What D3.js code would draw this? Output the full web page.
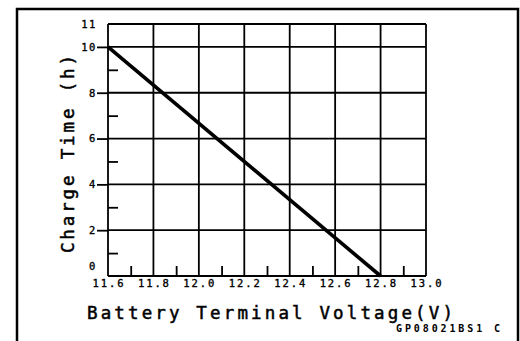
<!DOCTYPE html>
<html>
<head>
<meta charset="utf-8">
<script src="https://cdn.jsdelivr.net/npm/d3@7"></script>
<style>
  html, body { margin: 0; padding: 0; background: #fff; }
  svg { display: block; }
  text { font-family: "DejaVu Sans Mono", monospace; fill: #000; }
</style>
</head>
<body>
<svg id="chart" width="520" height="341"></svg>
<script>
// Charge time versus battery terminal voltage
const voltage = [11.6, 12.8];            // V
const chargeTime = [10, 0];               // h
const xMajorTicks = [11.6, 11.8, 12.0, 12.2, 12.4, 12.6, 12.8, 13.0];
const xTickLabels = ["11.6", "11.8", "12.0", "12.2", "12.4", "12.6", "12.8", "13.0"];
const xMinorTicks = [11.7, 11.9, 12.1, 12.3, 12.5, 12.7, 12.9];
const yMajorTicks = [0, 2, 4, 6, 8, 10, 11];
const yTickLabels = ["0", "2", "4", "6", "8", "10", "11"];
const yMinorTicks = [1, 3, 5, 7, 9];
const xTitle = "Battery Terminal Voltage(V)";
const yTitle = "Charge Time (h)";
const figureCode = "GP08021BS1  C";

const svg = d3.select("#chart");

const x = d3.scaleLinear().domain([11.6, 13.0]).range([108, 426]);
const y = d3.scaleLinear().domain([0, 11]).range([276, 24]);

// outer frame
svg.append("rect")
  .attr("x", 17).attr("y", 9)
  .attr("width", 501).attr("height", 345)
  .attr("fill", "none").attr("stroke", "#000").attr("stroke-width", 2.5);

const grid = svg.append("g").attr("stroke", "#000").attr("stroke-width", 1.8);

// vertical grid lines (every 0.2 V) and plot borders
grid.selectAll("line.v").data(xMajorTicks).join("line")
  .attr("class", "v")
  .attr("x1", d => x(d)).attr("x2", d => x(d))
  .attr("y1", y(11)).attr("y2", y(0));

// horizontal grid lines (every 2 h) plus top / bottom edges
grid.selectAll("line.h").data([0, 2, 4, 6, 8, 10, 11]).join("line")
  .attr("class", "h")
  .attr("x1", x(11.6)).attr("x2", x(13.0))
  .attr("y1", d => y(d)).attr("y2", d => y(d));

// major y ticks outside the left axis
const yMajorAxis = d3.axisLeft(y)
  .tickValues(yMajorTicks.filter(d => d > 0 && d < 11))
  .tickSize(11).tickFormat("");
const gy = svg.append("g").attr("transform", `translate(${x(11.6)},0)`).call(yMajorAxis);
gy.select(".domain").remove();
gy.selectAll(".tick line").attr("stroke", "#000").attr("stroke-width", 1.8);

// minor y ticks inside the plot
const yMinorAxis = d3.axisRight(y).tickValues(yMinorTicks).tickSize(10).tickFormat("");
const gym = svg.append("g").attr("transform", `translate(${x(11.6)},0)`).call(yMinorAxis);
gym.select(".domain").remove();
gym.selectAll(".tick line").attr("stroke", "#000").attr("stroke-width", 1.8);

// minor x ticks inside the plot
const xMinorAxis = d3.axisTop(x).tickValues(xMinorTicks).tickSize(10).tickFormat("");
const gxm = svg.append("g").attr("transform", `translate(0,${y(0)})`).call(xMinorAxis);
gxm.select(".domain").remove();
gxm.selectAll(".tick line").attr("stroke", "#000").attr("stroke-width", 1.8);

// y tick labels
svg.append("g").selectAll("text").data(yMajorTicks).join("text")
  .attr("x", 97)
  .attr("y", d => d === 0 ? y(0) - 10 : y(d))
  .attr("dy", "0.36em")
  .attr("text-anchor", "end")
  .attr("font-size", 10.5)
  .attr("letter-spacing", 1.6)
  .attr("stroke", "#000").attr("stroke-width", 0.35)
  .text((d, i) => yTickLabels[i]);

// x tick labels
svg.append("g").selectAll("text").data(xMajorTicks).join("text")
  .attr("x", d => x(d))
  .attr("y", 287)
  .attr("text-anchor", "middle")
  .attr("font-size", 10.5)
  .attr("textLength", 31)
  .attr("lengthAdjust", "spacing")
  .attr("stroke", "#000").attr("stroke-width", 0.35)
  .text((d, i) => xTickLabels[i]);

// data line
const line = d3.line().x(d => x(d[0])).y(d => y(d[1]));
svg.append("path")
  .datum(voltage.map((v, i) => [v, chargeTime[i]]))
  .attr("d", line)
  .attr("fill", "none").attr("stroke", "#000").attr("stroke-width", 3.6);

// axis titles
svg.append("text")
  .attr("x", 87).attr("y", 319)
  .attr("font-size", 17.5)
  .attr("textLength", 366)
  .attr("lengthAdjust", "spacing")
  .attr("stroke", "#000").attr("stroke-width", 0.5)
  .text(xTitle);

svg.append("text")
  .attr("transform", "translate(74,253) rotate(-90)")
  .attr("font-size", 17.5)
  .attr("textLength", 198)
  .attr("lengthAdjust", "spacing")
  .attr("stroke", "#000").attr("stroke-width", 0.5)
  .text(yTitle);

// figure code
svg.append("text")
  .attr("x", 396).attr("y", 332)
  .attr("font-size", 10)
  .attr("font-weight", "bold")
  .attr("textLength", 104)
  .attr("lengthAdjust", "spacing")
  .text(figureCode);
</script>
</body>
</html>
